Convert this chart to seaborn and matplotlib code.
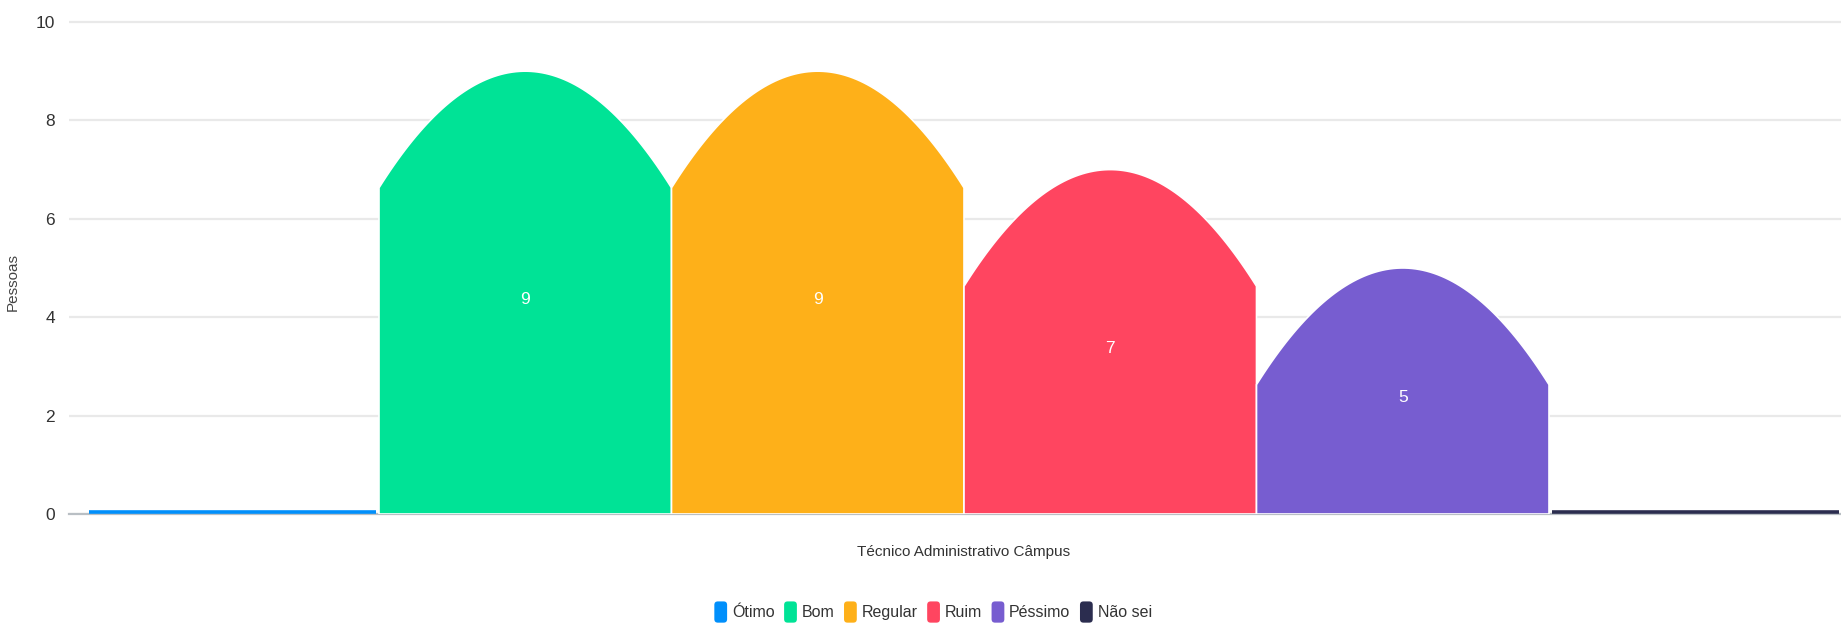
import numpy as np
import pandas as pd
import matplotlib
matplotlib.use("Agg")
import matplotlib.pyplot as plt
import seaborn as sns
from matplotlib.path import Path
from matplotlib.patches import PathPatch, FancyBboxPatch, Patch
from matplotlib.legend_handler import HandlerPatch

# ---- data ----
group = ["Técnico Administrativo Câmpus"]
ratings = ["Ótimo", "Bom", "Regular", "Ruim", "Péssimo", "Não sei"]
values = [0, 9, 9, 7, 5, 0]
colors = ["#008FFB", "#00E396", "#FEB019", "#FF4560", "#775DD0", "#2B2D4F"]
yticks = [0, 2, 4, 6, 8, 10]
ylabel = "Pessoas"

df = pd.DataFrame({"grupo": group * len(ratings), "avaliacao": ratings, "pessoas": values})

sns.set_theme(style="white")
FONT = ["Liberation Sans", "DejaVu Sans"]
plt.rcParams["font.family"] = FONT

W, H = 1841, 625
fig = plt.figure(figsize=(W / 100, H / 100), dpi=100)
fig.patch.set_facecolor("white")

left_px, right_px, bottom_px, top_px = 69, 1859, 514, 19.5
ax = fig.add_axes([left_px / W, (H - bottom_px) / H, (right_px - left_px) / W, (bottom_px - top_px) / H])

sns.barplot(data=df, x="grupo", y="pessoas", hue="avaliacao", hue_order=ratings,
            palette=colors, width=1.0, gap=0, legend=False, ax=ax, errorbar=None,
            saturation=1)

ax.set_xlim(-0.5 - 17.5 / 1755, 0.5 + 17.5 / 1755)
ax.set_ylim(0, 10.05)
ax.set_yticks(yticks)
ax.set_yticklabels([str(t) for t in yticks])
ax.set_xticks([])
ax.tick_params(axis="y", length=0, pad=10, labelsize=12.5, labelcolor="#333333")

ax.grid(axis="y", color="#e9e9e9", linewidth=1.6)
ax.set_axisbelow(True)
for s in ["left", "right", "top"]:
    ax.spines[s].set_visible(False)
ax.spines["bottom"].set_color("#b9bfc4")
ax.spines["bottom"].set_linewidth(1.6)
ax.spines["bottom"].set_zorder(1)

# replace bars with arched-top shapes
BUMP = 2.37
bars = sorted([p for p in ax.patches], key=lambda p: p.get_x())
for p, col, val in zip(bars, colors, values):
    x0, w, v = p.get_x(), p.get_width(), p.get_height()
    p.set_visible(False)
    if v <= 0:
        ax.plot([x0 + w * 0.01, x0 + w * 0.99], [0.04, 0.04], color=col, lw=2.6,
                solid_capstyle="butt", zorder=3)
        continue
    side = max(v - BUMP, 0)
    t = np.linspace(0, 1, 80)
    xs = x0 + w * t
    ys = side + (v - side) * (1 - (2 * t - 1) ** 2)
    verts = [(x0, 0), (x0, side)] + list(zip(xs, ys)) + [(x0 + w, side), (x0 + w, 0), (x0, 0)]
    codes = [Path.MOVETO] + [Path.LINETO] * (len(verts) - 2) + [Path.CLOSEPOLY]
    ax.add_patch(PathPatch(Path(verts, codes), facecolor=col, edgecolor="white", lw=1.2, zorder=2))
    ax.annotate(str(val), (x0 + w / 2, v / 2), xytext=(0, -5), textcoords="offset points",
                ha="center", va="center", color="white", fontsize=12.5, zorder=4)

ax.set_ylabel(ylabel, fontsize=11, color="#444444")
ax.yaxis.set_label_coords((20 - left_px) / (right_px - left_px), (bottom_px - 282) / (bottom_px - top_px))
ax.set_xlabel(group[0], fontsize=11, color="#333333", labelpad=22)


class RoundHandler(HandlerPatch):
    def create_artists(self, legend, orig_handle, xdescent, ydescent, width, height, fontsize, trans):
        r = 2.5
        pch = FancyBboxPatch((-xdescent + r, -ydescent + r - 3), width - 2 * r, height - 2 * r + 5,
                             boxstyle=f"round,pad={r}", facecolor=orig_handle.get_facecolor(),
                             edgecolor="none", transform=trans)
        return [pch]


handles = [Patch(facecolor=c, label=l) for c, l in zip(colors, ratings)]
fig.legend(handles=handles, loc="center", bbox_to_anchor=(933 / W, 1 - 612 / H), ncol=6,
           frameon=False, handlelength=0.8, handleheight=1.0, handletextpad=0.3,
           columnspacing=0.6, labelcolor="#333333",
           handler_map={Patch: RoundHandler()}, prop={"size": 11.5})

fig.savefig("out.png", dpi=100, facecolor="white")
